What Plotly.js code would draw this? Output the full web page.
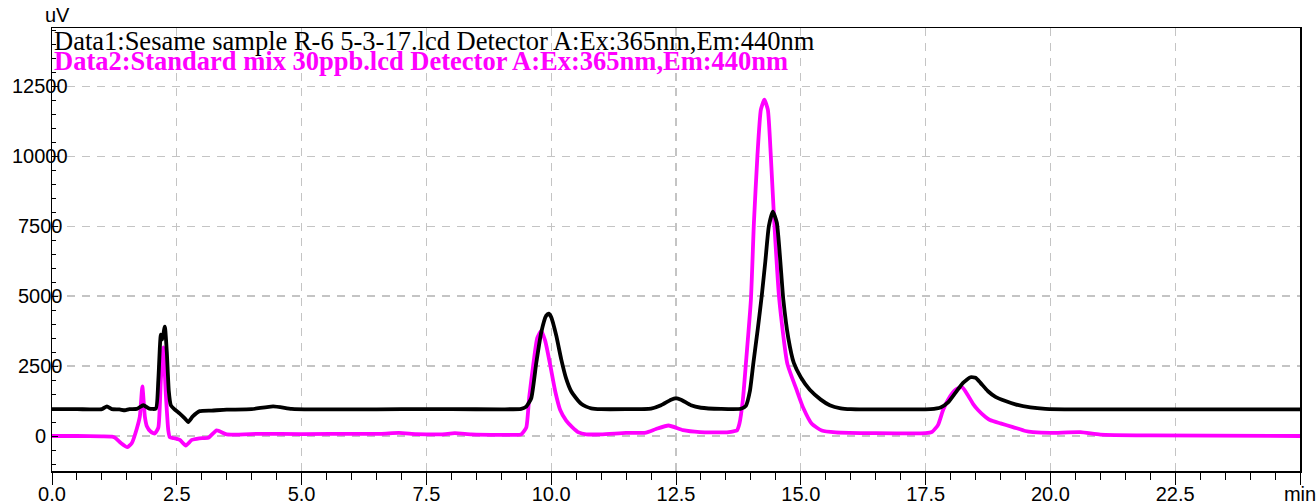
<!DOCTYPE html>
<html><head><meta charset="utf-8">
<script src="https://cdn.plot.ly/plotly-3.0.1.min.js"></script>
<style>html,body{margin:0;padding:0;background:#fff}#chart{width:1316px;height:503px}</style>
</head><body><div id="chart"></div>
<script>
// Data1: sample (black)
const timeData1 = [0, 0.5, 1.0, 1.1, 1.2, 1.35, 1.46, 1.55, 1.7, 1.83, 1.95, 2.08, 2.13, 2.18, 2.21, 2.26, 2.3, 2.34, 2.38, 2.45, 2.56, 2.65, 2.73, 2.82, 2.96, 3.2, 3.5, 4.0, 4.43, 4.8, 5.2, 6.0, 7.0, 8.0, 9.0, 9.4, 9.5, 9.6, 9.7, 9.8, 9.9, 9.95, 10.0, 10.1, 10.2, 10.3, 10.4, 10.5, 10.6, 10.7, 10.8, 11.0, 11.5, 12.0, 12.2, 12.4, 12.5, 12.6, 12.8, 13.0, 13.4, 13.8, 13.9, 13.98, 14.05, 14.14, 14.22, 14.29, 14.36, 14.44, 14.52, 14.65, 14.75, 14.86, 15.0, 15.18, 15.4, 15.58, 15.8, 16.0, 17.0, 17.6, 17.8, 17.95, 18.1, 18.25, 18.4, 18.5, 18.6, 18.75, 18.9, 19.1, 19.3, 19.6, 19.9, 20.5, 22.0, 25.0];
const signalData1 = [960, 960, 960, 1060, 960, 950, 920, 960, 970, 1100, 980, 980, 2000, 3620, 3450, 3910, 3000, 1600, 1100, 960, 800, 650, 500, 700, 890, 910, 940, 960, 1060, 970, 950, 950, 960, 960, 955, 970, 1050, 1350, 2600, 3700, 4300, 4370, 4250, 3600, 2750, 2050, 1600, 1350, 1150, 1050, 990, 960, 960, 980, 1100, 1300, 1350, 1300, 1100, 1010, 970, 975, 1080, 1600, 2610, 3850, 5050, 6250, 7500, 8020, 7620, 4870, 3500, 2610, 2100, 1650, 1300, 1100, 990, 960, 950, 960, 1020, 1200, 1550, 1900, 2100, 2080, 1900, 1600, 1400, 1250, 1130, 1020, 970, 950, 950, 950];

// Data2: standard mix (magenta)
const timeData2 = [0, 0.5, 1.0, 1.2, 1.26, 1.38, 1.51, 1.6, 1.7, 1.76, 1.81, 1.86, 1.9, 1.98, 2.06, 2.13, 2.18, 2.23, 2.28, 2.33, 2.36, 2.45, 2.56, 2.68, 2.8, 2.95, 3.13, 3.3, 3.5, 4.17, 5.0, 6.17, 6.6, 6.95, 7.3, 7.8, 8.07, 8.4, 9.0, 9.3, 9.4, 9.5, 9.56, 9.64, 9.72, 9.8, 9.88, 9.98, 10.08, 10.18, 10.3, 10.42, 10.55, 10.7, 11.0, 11.5, 11.9, 12.1, 12.35, 12.64, 12.98, 13.5, 13.65, 13.72, 13.77, 13.84, 13.9, 14.0, 14.06, 14.13, 14.2, 14.27, 14.34, 14.4, 14.47, 14.57, 14.73, 14.92, 15.05, 15.22, 15.42, 15.7, 16.5, 17.5, 17.63, 17.75, 17.85, 17.95, 18.1, 18.23, 18.35, 18.45, 18.55, 18.7, 18.79, 19.0, 19.25, 19.5, 19.65, 20.0, 20.6, 21.0, 22.0, 25.0];
const signalData2 = [0, 0, -10, -20, -60, -250, -400, -250, 270, 700, 1770, 700, 350, 150, 90, 300, 2000, 3170, 1500, 200, -40, -80, -140, -340, -140, -80, -65, 200, 55, 80, 70, 80, 80, 110, 70, 60, 100, 60, 40, 40, 60, 300, 1400, 2540, 3500, 3760, 3400, 2540, 1600, 930, 550, 320, 130, 60, 60, 110, 125, 250, 376, 210, 140, 130, 170, 197, 437, 1300, 2586, 4854, 7601, 9987, 11660, 12018, 11660, 9987, 7601, 4854, 2586, 1630, 1000, 437, 197, 130, 100, 100, 150, 400, 930, 1300, 1650, 1750, 1450, 1150, 930, 680, 570, 450, 320, 180, 140, 110, 140, 50, 20, 0];

const xTickVals = [0, 2.5, 5, 7.5, 10, 12.5, 15, 17.5, 20, 22.5, 25];
const xTickText = ["0.0", "2.5", "5.0", "7.5", "10.0", "12.5", "15.0", "17.5", "20.0", "22.5", "min"];
const yTickVals = [0, 2500, 5000, 7500, 10000, 12500];
const yTickText = ["0", "2500", "5000", "7500", "10000", "12500"];
const yUnitLabel = "uV";
const series1Name = "Data1:Sesame sample R-6 5-3-17.lcd Detector A:Ex:365nm,Em:440nm";
const series2Name = "Data2:Standard mix 30ppb.lcd Detector A:Ex:365nm,Em:440nm";

const W = 1316, H = 503;
const mL = 52, mR = 16, mT = 28, mB = 32;
const plotW = W - mL - mR, plotH = H - mT - mB;
const pxX = px => (px - mL) / plotW;
const pxY = py => 1 - (py - mT) / plotH;

const traces = [
  {x: timeData2, y: signalData2, type: 'scatter', mode: 'lines', name: series2Name,
   line: {color: '#ff00ff', width: 3.8, shape: 'spline', smoothing: 0.5}},
  {x: timeData1, y: signalData1, type: 'scatter', mode: 'lines', name: series1Name,
   line: {color: '#000000', width: 3.8, shape: 'spline', smoothing: 0.5}}
];

const sansFont = 'Liberation Sans, Arial, sans-serif';
const serifFont = 'Liberation Serif, Times New Roman, serif';
const annotations = [];
yTickVals.forEach((v, i) => {
  annotations.push({xref: 'paper', yref: 'y', x: pxX(40), y: v, xanchor: 'center', yanchor: 'middle',
    text: yTickText[i], showarrow: false, font: {family: sansFont, size: 20, color: '#000'}});
});
annotations.push({xref: 'paper', yref: 'paper', x: pxX(57), y: pxY(15), xanchor: 'center', yanchor: 'middle',
  text: yUnitLabel, showarrow: false, font: {family: sansFont, size: 20, color: '#000'}});
annotations.push({xref: 'paper', yref: 'paper', x: 0, y: pxY(41), xanchor: 'left', yanchor: 'middle',
  text: series1Name, showarrow: false, font: {family: serifFont, size: 26.5, color: '#000'}});
annotations.push({xref: 'paper', yref: 'paper', x: 0, y: pxY(61), xanchor: 'left', yanchor: 'middle',
  text: '<b>' + series2Name + '</b>', showarrow: false, font: {family: serifFont, size: 26.5, color: '#ff00ff'}});

const layout = {
  width: W, height: H,
  margin: {l: mL, r: mR, t: mT, b: mB, pad: 0},
  paper_bgcolor: '#fff', plot_bgcolor: '#fff',
  showlegend: false,
  xaxis: {
    range: [0, 25], tickmode: 'array', tickvals: xTickVals, ticktext: xTickText,
    ticks: 'outside', ticklen: 12, tickwidth: 1, tickcolor: '#000', ticklabelstandoff: -8,
    ticklabeloverflow: 'allow',
    minor: {dtick: 0.5, tick0: 0, ticks: 'outside', ticklen: 7, tickwidth: 1, tickcolor: '#000', showgrid: false},
    showline: true, linecolor: '#000', linewidth: 1.5, mirror: true,
    showgrid: true, gridcolor: '#c4c4c4', gridwidth: 1.2, griddash: '8px,7px',
    zeroline: false,
    tickfont: {family: sansFont, size: 20, color: '#000'}
  },
  yaxis: {
    range: [-1250, 14580], tickmode: 'array', tickvals: yTickVals, showticklabels: false,
    ticks: 'inside', ticklen: 6, tickwidth: 1, tickcolor: '#000',
    minor: {dtick: 500, tick0: 0, ticks: 'inside', ticklen: 4, tickwidth: 1, tickcolor: '#000', showgrid: false},
    showline: true, linecolor: '#000', linewidth: 1.5, mirror: true,
    showgrid: true, gridcolor: '#c4c4c4', gridwidth: 1.2, griddash: '8px,7px',
    zeroline: false
  },
  annotations: annotations
};

Plotly.newPlot('chart', traces, layout, {displayModeBar: false, staticPlot: true});
</script>
</body></html>
